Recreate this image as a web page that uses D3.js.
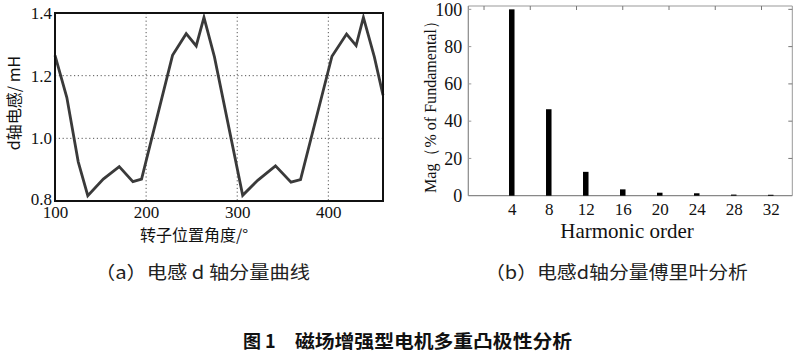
<!DOCTYPE html>
<html><head><meta charset="utf-8">
<script src="https://cdn.jsdelivr.net/npm/d3@7"></script>
<style>html,body{margin:0;padding:0;background:#fff;}svg{display:block;}text{white-space:pre;}</style>
</head><body>
<script>
// ---- data: (a) d-axis inductance curve ----
const angleDeg   = [100, 113, 125.5, 136, 153, 170.5, 185.5, 195, 229, 244, 255, 263.5, 275, 306, 322.5, 342, 359, 369.5, 404, 420, 430.5, 438.5, 450.5, 460];
const inductance = [1.265, 1.13, 0.925, 0.817, 0.87, 0.91, 0.862, 0.87, 1.265, 1.334, 1.295, 1.386, 1.26, 0.818, 0.866, 0.912, 0.86, 0.868, 1.262, 1.333, 1.296, 1.386, 1.26, 1.138];
const angleTicks = [100, 200, 300, 400];
const inductTicks = [0.8, 1.0, 1.2, 1.4];

// ---- data: (b) Fourier analysis ----
const harmonicOrder = [4, 8, 12, 16, 20, 24, 28, 32];
const magnitudePct  = [100, 46.4, 12.8, 3.4, 1.6, 1.3, 0.6, 0.5];
const magTicks = [0, 20, 40, 60, 80, 100];
const topTicks = [1, 6, 11, 16, 21, 26, 31];

// ---- texts ----
const yLabelA = "d轴电感/ mH";
const xLabelA = "转子位置角度/°";
const yLabelB = "Mag（% of Fundamental）";
const xLabelB = "Harmonic order";
const captionA = "（a）电感 d 轴分量曲线";
const captionB = "（b）电感d轴分量傅里叶分析";
const figTitleNum = "图 1";
const figTitle = "磁场增强型电机多重凸极性分析";

const W = 800, H = 358;
const serif = "'Liberation Serif','Times New Roman',serif";
const cjk = "'Noto Sans CJK SC','Noto Sans',sans-serif";

const svg = d3.select("body").append("svg").attr("width", W).attr("height", H);
svg.append("rect").attr("width", W).attr("height", H).attr("fill", "#fff");

// ================= (a) =================
const A = {l: 55, r: 383, t: 13, b: 201};
const xA = d3.scaleLinear().domain([100, 460]).range([A.l, A.r]);
const yA = d3.scaleLinear().domain([0.8, 1.4]).range([A.b, A.t]);
const gA = svg.append("g");

// grid
gA.append("g").selectAll("line").data([200, 300, 400]).join("line")
  .attr("x1", d => xA(d)).attr("x2", d => xA(d)).attr("y1", A.t).attr("y2", A.b)
  .attr("stroke", "#555").attr("stroke-width", 1).attr("stroke-dasharray", "1.2,2.6");
gA.append("g").selectAll("line").data([1.0, 1.2]).join("line")
  .attr("y1", d => yA(d)).attr("y2", d => yA(d)).attr("x1", A.l).attr("x2", A.r)
  .attr("stroke", "#555").attr("stroke-width", 1).attr("stroke-dasharray", "1.2,2.6");

// curve
const pts = angleDeg.map((a, i) => [a, inductance[i]]);
gA.append("path").datum(pts)
  .attr("d", d3.line().x(d => xA(d[0])).y(d => yA(d[1])))
  .attr("fill", "none").attr("stroke", "#3a3a3a").attr("stroke-width", 2.8)
  .attr("stroke-linejoin", "miter");

// frame
gA.append("rect").attr("x", A.l).attr("y", A.t).attr("width", A.r - A.l).attr("height", A.b - A.t)
  .attr("fill", "none").attr("stroke", "#111").attr("stroke-width", 2);

// axes (labels only)
const axA_x = d3.axisBottom(xA).tickValues(angleTicks).tickSize(0).tickPadding(5).tickFormat(d3.format("d"));
const gx = gA.append("g").attr("transform", `translate(0,${A.b})`).call(axA_x);
gx.attr("font-family", null).attr("font-size", null);
gx.select(".domain").remove();
gx.selectAll("text").style("font-family", serif).style("font-size", "17px").attr("fill", "#111");

const axA_y = d3.axisLeft(yA).tickValues(inductTicks).tickSize(0).tickPadding(3).tickFormat(d3.format(".1f"));
const gy = gA.append("g").attr("transform", `translate(${A.l},0)`).call(axA_y);
gy.attr("font-family", null).attr("font-size", null);
gy.select(".domain").remove();
gy.selectAll("text").style("font-family", serif).style("font-size", "17px").attr("fill", "#111")
  .attr("dy", d => d === 0.8 ? "0.18em" : "0.32em");

gA.append("text").attr("x", 194).attr("y", 241).attr("text-anchor", "middle")
  .style("font-family", cjk).style("font-size", "16px").attr("fill", "#111").text(xLabelA);
gA.append("text").attr("transform", "translate(20,103) rotate(-90)").attr("text-anchor", "middle")
  .style("font-family", cjk).style("font-size", "16px").attr("fill", "#111").text(yLabelA);

// ================= (b) =================
const B = {l: 468.3, r: 792.3, t: 6, b: 195.7};
const xB = d3.scaleLinear().domain([-0.7, 34.33]).range([B.l, B.r]);
const yB = d3.scaleLinear().domain([0, 101.8]).range([B.b, B.t]);
const gB = svg.append("g");

// frame
gB.append("line").attr("x1", B.l).attr("x2", B.r).attr("y1", B.t).attr("y2", B.t).attr("stroke", "#999").attr("stroke-width", 1);
gB.append("line").attr("x1", B.r).attr("x2", B.r).attr("y1", B.t).attr("y2", B.b).attr("stroke", "#999").attr("stroke-width", 1);
gB.append("line").attr("x1", B.l).attr("x2", B.r).attr("y1", B.b).attr("y2", B.b).attr("stroke", "#888").attr("stroke-width", 1.2);
gB.append("line").attr("x1", B.l).attr("x2", B.l).attr("y1", B.t).attr("y2", B.b).attr("stroke", "#888").attr("stroke-width", 1.2);

// minor ticks top / right / left
gB.append("g").selectAll("line").data(topTicks).join("line")
  .attr("x1", d => xB(d)).attr("x2", d => xB(d)).attr("y1", B.t).attr("y2", B.t + 4)
  .attr("stroke", "#777").attr("stroke-width", 1);
gB.append("g").selectAll("line").data(magTicks.slice(1)).join("line")
  .attr("y1", d => yB(d)).attr("y2", d => yB(d)).attr("x1", B.r).attr("x2", B.r - 4)
  .attr("stroke", "#777").attr("stroke-width", 1);
gB.append("g").selectAll("line").data(magTicks.slice(1)).join("line")
  .attr("y1", d => yB(d)).attr("y2", d => yB(d)).attr("x1", B.l).attr("x2", B.l + 3)
  .attr("stroke", "#999").attr("stroke-width", 1);

// bars
const barW = 5.5;
gB.append("g").selectAll("rect").data(harmonicOrder).join("rect")
  .attr("x", d => xB(d) - barW / 2).attr("width", barW)
  .attr("y", (d, i) => yB(magnitudePct[i]))
  .attr("height", (d, i) => Math.max(1, yB(0) - yB(magnitudePct[i])))
  .attr("fill", "#000");

// axes labels
const axB_x = d3.axisBottom(xB).tickValues(harmonicOrder).tickSize(0).tickPadding(7).tickFormat(d3.format("d"));
const gbx = gB.append("g").attr("transform", `translate(0,${B.b})`).call(axB_x);
gbx.attr("font-family", null).attr("font-size", null);
gbx.select(".domain").remove();
gbx.selectAll("text").style("font-family", serif).style("font-size", "17px").attr("fill", "#111");

const axB_y = d3.axisLeft(yB).tickValues(magTicks).tickSize(0).tickPadding(6).tickFormat(d3.format("d"));
const gby = gB.append("g").attr("transform", `translate(${B.l},0)`).call(axB_y);
gby.attr("font-family", null).attr("font-size", null);
gby.select(".domain").remove();
gby.selectAll("text").style("font-family", serif).style("font-size", "18px").attr("fill", "#111");

gB.append("text").attr("x", 627).attr("y", 238).attr("text-anchor", "middle")
  .style("font-family", serif).style("font-size", "21px").attr("fill", "#111").text(xLabelB);
gB.append("text").attr("transform", "translate(436,103) rotate(-90)").attr("text-anchor", "middle")
  .style("font-family", serif).style("font-size", "17px").attr("fill", "#111")
  .attr("textLength", 180).attr("lengthAdjust", "spacingAndGlyphs").text(yLabelB);

// ================= captions =================
svg.append("text").attr("x", 95).attr("y", 279).style("font-family", cjk).style("font-size", "18px")
  .attr("fill", "#222").attr("textLength", 215).attr("lengthAdjust", "spacingAndGlyphs").text(captionA);
svg.append("text").attr("x", 485).attr("y", 279).style("font-family", cjk).style("font-size", "18px")
  .attr("fill", "#222").attr("textLength", 263).attr("lengthAdjust", "spacingAndGlyphs").text(captionB);
svg.append("text").attr("x", 243).attr("y", 348).style("font-family", cjk).style("font-size", "18px")
  .style("font-weight", "bold").attr("fill", "#111").text(figTitleNum);
svg.append("text").attr("x", 295).attr("y", 348).style("font-family", cjk).style("font-size", "18px")
  .style("font-weight", "bold").attr("fill", "#111").attr("textLength", 277).attr("lengthAdjust", "spacingAndGlyphs").text(figTitle);
</script>
</body></html>
